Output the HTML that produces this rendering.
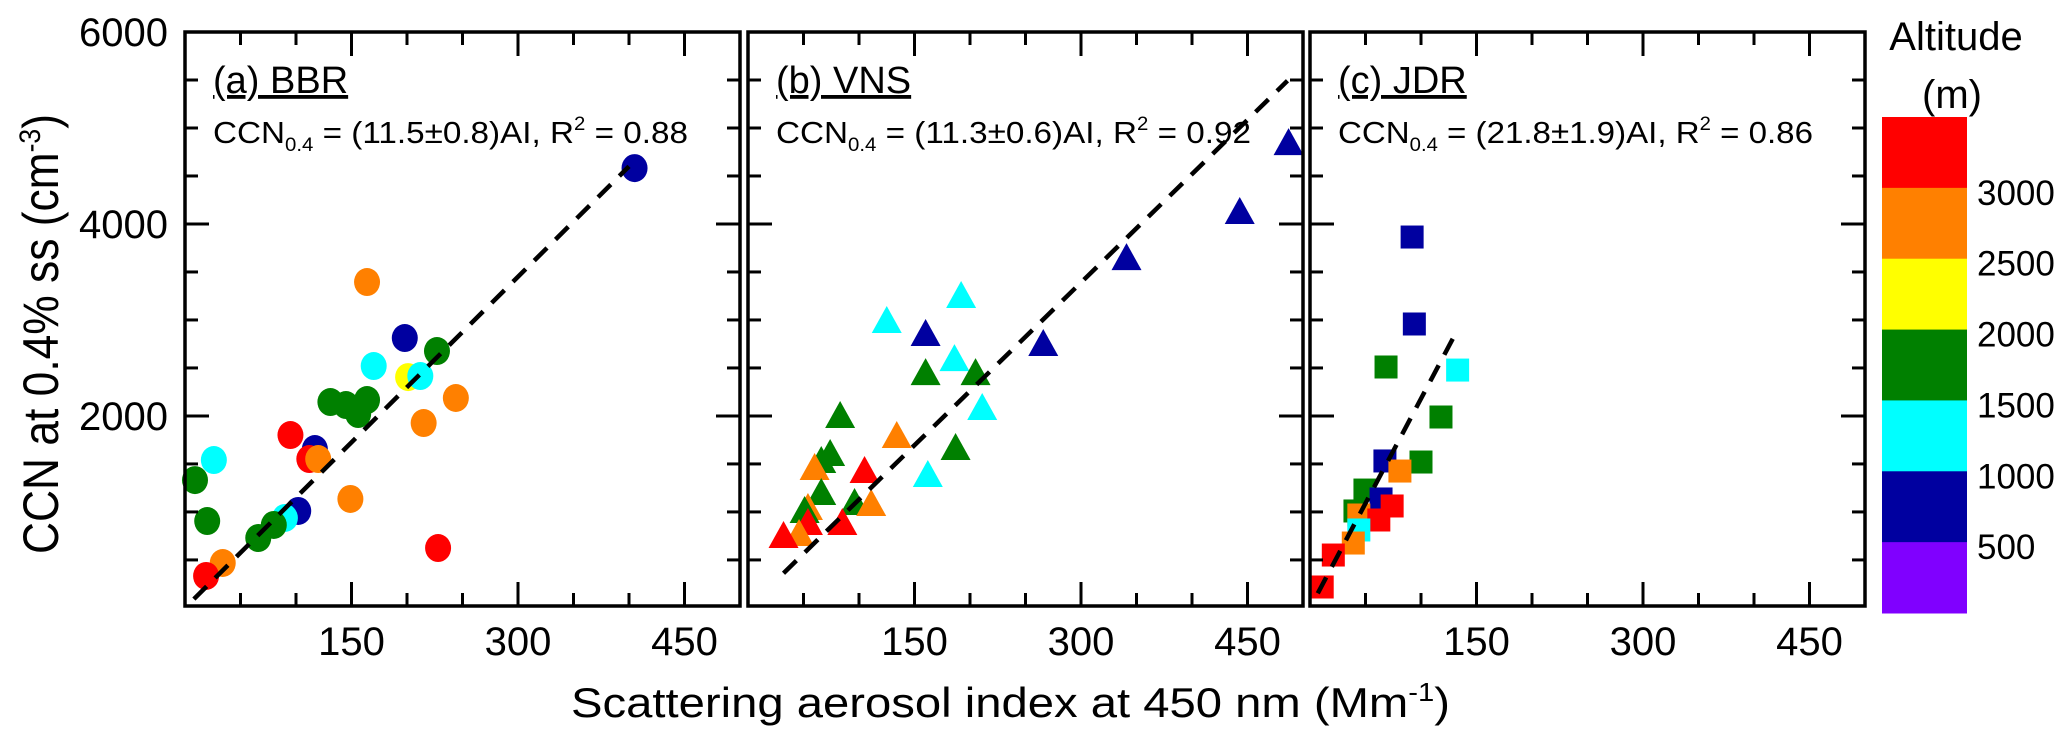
<!DOCTYPE html>
<html><head><meta charset="utf-8"><style>
html,body{margin:0;padding:0;background:#fff;}
svg{display:block;font-family:"Liberation Sans",sans-serif;}
</style></head><body>
<svg id="chart" width="2067" height="742" viewBox="0 0 2067 742" xmlns="http://www.w3.org/2000/svg">
<g id="panels"></g>
<text transform="translate(58,334) rotate(-90)" text-anchor="middle" font-size="50" textLength="440" lengthAdjust="spacingAndGlyphs">CCN at 0.4% ss (cm<tspan dy="-18" font-size="30">-3</tspan><tspan dy="18">)</tspan></text>
<text x="571" y="717" font-size="42" textLength="879" lengthAdjust="spacingAndGlyphs">Scattering aerosol index at 450 nm (Mm<tspan dy="-16" font-size="26">-1</tspan><tspan dy="16">)</tspan></text>
<g id="colorbar"></g>
<text x="1956" y="50" font-size="40" text-anchor="middle">Altitude</text>
<text x="1952" y="108" font-size="40" text-anchor="middle">(m)</text>
</svg>
<script>
// ---- data ----
const xTicks = [150, 300, 450];
const yTicks = [2000, 4000, 6000];
const panelNames = ["(a) BBR", "(b) VNS", "(c) JDR"];
const slopes = [11.5, 11.3, 21.8];
const slopeErr = ["0.8", "0.6", "1.9"];
const r2 = ["0.88", "0.92", "0.86"];
const fitRangeA = [8, 400];
const fitRangeB = [32, 486];
const fitRangeC = [7, 133];
const bbrX = [164, 198, 227, 170, 201, 212, 244, 215, 131, 145, 156, 164, 95, 117, 112, 120, 26, 9, 149, 102, 90, 20, 80, 66, 228, 34, 19, 405];
const bbrY = [3395, 2812, 2676, 2520, 2405, 2416, 2187, 1926, 2145, 2114, 2020, 2166, 1801, 1655, 1551, 1551, 1541, 1332, 1135, 1010, 937, 905, 864, 728, 624, 468, 333, 4582];
const bbrAlt = ["orange","navy","green","cyan","yellow","cyan","orange","orange","green","green","green","green","red","navy","red","orange","cyan","green","orange","navy","cyan","green","green","green","red","orange","red","navy"];
const vnsX = [487, 443, 341, 266, 125, 192, 160, 186, 160, 205, 211, 83, 134, 187, 162, 105, 74, 66, 60, 66, 96, 111, 54, 51, 54, 85, 46, 32];
const vnsY = [4853, 4135, 3655, 2760, 2999, 3260, 2864, 2603, 2457, 2457, 2093, 2010, 1801, 1676, 1395, 1437, 1614, 1541, 1468, 1208, 1103, 1093, 1051, 1020, 895, 895, 780, 760];
const vnsAlt = ["navy","navy","navy","navy","cyan","cyan","navy","cyan","green","green","cyan","green","orange","green","cyan","red","green","green","orange","green","green","orange","orange","green","red","red","orange","red"];
const jdrX = [92, 94, 68.5, 133, 118, 67.5, 100, 81, 49.5, 64, 74, 40.5, 44, 62, 44, 39, 21, 11];
const jdrY = [3864, 2958, 2510, 2478, 1989, 1531, 1520, 1426, 1228, 1135, 1062, 1010, 968, 916, 812, 676, 551, 218];
const jdrAlt = ["navy","navy","green","cyan","green","navy","green","orange","green","navy","red","green","orange","red","cyan","orange","red","red"];
const cbLabels = ["3000", "2500", "2000", "1500", "1000", "500"];
const cbColors = ["red","orange","yellow","green","cyan","navy","violet"];

const COL = {red:"#ff0000", orange:"#ff8000", yellow:"#ffff00", green:"#008000", cyan:"#00ffff", navy:"#0000a0", violet:"#8000ff"};
const NS = "http://www.w3.org/2000/svg";
const PL = [185, 748, 1310], PW = 555, PT = 32, PB = 606;
const XMAX = 500, YMIN = 20, YMAX = 6000;
function sx(p, v){ return PL[p] + v / XMAX * PW; }
function sy(v){ return PB - (v - YMIN) / (YMAX - YMIN) * (PB - PT); }
function mk(tag, attrs, parent){ const e = document.createElementNS(NS, tag); for (const k in attrs) e.setAttribute(k, attrs[k]); parent.appendChild(e); return e; }

const root = document.getElementById("panels");
const series = [[bbrX, bbrY, bbrAlt, "circle"], [vnsX, vnsY, vnsAlt, "triangle"], [jdrX, jdrY, jdrAlt, "square"]];
const fits = [fitRangeA, fitRangeB, fitRangeC];
const keys = ["bbr", "vns", "jdr"];

for (let p = 0; p < 3; p++) {
  const g = mk("g", {}, root);
  
  
  const [xs, ys, alts, shape] = series[p];
  for (let i = 0; i < xs.length; i++) {
    const cx = sx(p, xs[i]), cy = sy(ys[i]), c = COL[alts[i]];
    let m;
    if (shape === "circle") m = mk("ellipse", {cx: cx, cy: cy, rx: 13, ry: 14, fill: c}, g);
    else if (shape === "triangle") m = mk("polygon", {points: `${cx},${cy-14} ${cx-15},${cy+13} ${cx+15},${cy+13}`, fill: c}, g);
    else m = mk("rect", {x: cx-11.5, y: cy-11.5, width: 23, height: 23, fill: c}, g);
    
    
  }
  const f = fits[p];
  const ln = mk("line", {x1: sx(p, f[0]), y1: sy(f[0]*slopes[p]), x2: sx(p, f[1]), y2: sy(f[1]*slopes[p]), stroke: "#000", "stroke-width": 4.5, "stroke-dasharray": "18 12"}, g);
  
  
  const fr = mk("rect", {x: PL[p], y: PT, width: PW, height: PB-PT, fill: "none", stroke: "#000", "stroke-width": 3.5}, g);
  
  
  for (let v = 50; v < XMAX; v += 50) {
    const L = (v % 150 === 0) ? 24 : 13, x = sx(p, v);
    mk("line", {x1: x, y1: PB, x2: x, y2: PB-L, stroke: "#000", "stroke-width": 3}, g);
    mk("line", {x1: x, y1: PT, x2: x, y2: PT+L, stroke: "#000", "stroke-width": 3}, g);
  }
  for (const v of xTicks) {
    const t = mk("text", {x: sx(p, v), y: 655, "font-size": 40, "text-anchor": "middle"}, g);
    t.textContent = v;
    
    
  }
  for (let v = 500; v < YMAX; v += 500) {
    const L = (v % 2000 === 0) ? 24 : 13, y = sy(v);
    mk("line", {x1: PL[p], y1: y, x2: PL[p]+L, y2: y, stroke: "#000", "stroke-width": 3}, g);
    mk("line", {x1: PL[p]+PW, y1: y, x2: PL[p]+PW-L, y2: y, stroke: "#000", "stroke-width": 3}, g);
  }
  if (p === 0) {
    for (const v of yTicks) {
      const t = mk("text", {x: 168, y: sy(v)+14, "font-size": 40, "text-anchor": "end"}, g);
      t.textContent = v;
      
      
    }
  }
  const tx = PL[p] + 28;
  const ti = mk("text", {x: tx, y: 93, "font-size": 38, "text-decoration": "underline"}, g);
  ti.textContent = panelNames[p];
  
  
  const eq = mk("text", {x: tx, y: 143, "font-size": 31, textLength: 475, lengthAdjust: "spacingAndGlyphs"}, g);
  eq.innerHTML = `CCN<tspan dy="8" font-size="19">0.4</tspan><tspan dy="-8"> = (${slopes[p]}±${slopeErr[p]})AI,  R</tspan><tspan dy="-13" font-size="19">2</tspan><tspan dy="13"> = ${r2[p]}</tspan>`;
  
  
}

const cb = document.getElementById("colorbar");
const CBX = 1882, CBW = 85, CBT = 117, CBH = 496, seg = CBH / cbColors.length;
for (let i = 0; i < cbColors.length; i++) {
  const r = mk("rect", {x: CBX, y: CBT + i*seg, width: CBW, height: seg+0.5, fill: COL[cbColors[i]]}, cb);
  
  
}
for (let i = 0; i < cbLabels.length; i++) {
  const t = mk("text", {x: 1977, y: CBT + (i+1)*seg + 17, "font-size": 35}, cb);
  t.textContent = cbLabels[i];
  
  
}
</script>
</body></html>
